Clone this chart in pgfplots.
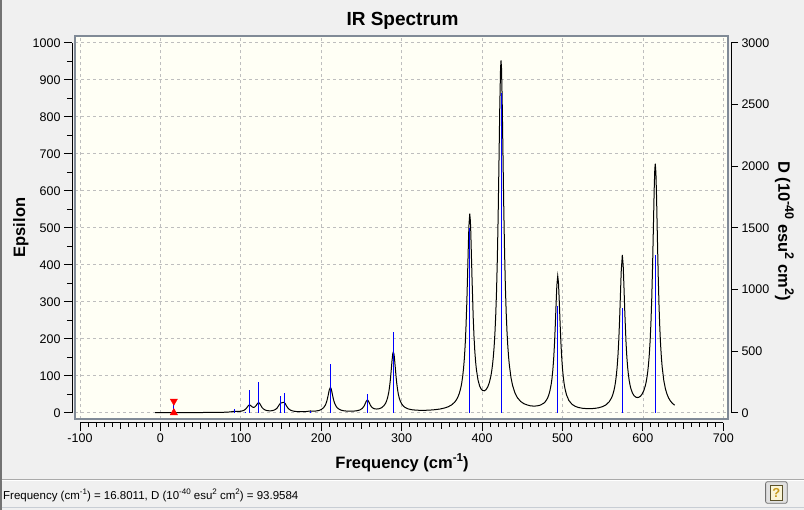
\documentclass[border=0pt]{standalone}
\usepackage{fontspec}
\setmainfont{Liberation Sans}
\usepackage{pgfplots}
\usepackage{pgfplotstable}
\pgfplotsset{compat=1.18}
\definecolor{winbg}{RGB}{240,240,240}
\definecolor{plotbg}{RGB}{255,255,245}
\definecolor{framecol}{RGB}{128,138,150}
\definecolor{gridcol}{RGB}{190,190,190}
\definecolor{stickcol}{RGB}{0,0,255}
\newcommand{\sups}[2][11bp]{\raisebox{0.42em}{\fontsize{#1}{#1}\selectfont #2}}

\pgfplotstableread{
f eps
-6.6 0.3
0 0.3
20 0.35
40 0.45
60 0.65
70 0.85
76 1.1
80 1.3
84 1.7
86 2.0
88 2.5
90 3.2
92 4.0
95 3.6
98 3.5
100 4.0
102 5.0
104 6.6
106 9.6
108 14.9
109.5 19.2
110.7 21.1
112 20.1
113 18.0
114.5 15.3
116 14.4
117.5 15.6
119 19.0
120.8 24.9
122.3 27.6
123.8 24.1
125 19.4
126.5 13.9
128 10.5
130 7.6
132 6.1
134 5.4
136 5.1
138 5.3
140 6.1
142 7.5
144 10.3
145.5 13.6
147 18.5
148.2 22.7
149.2 25.2
150.3 26.6
151.5 27.0
153 28.1
154.2 27.5
155.5 24.0
157 17.9
158.5 13.0
160 9.6
162 6.8
164 5.2
166 4.1
168 3.5
170 3.1
172 2.85
176 2.7
180 2.85
184 3.95
186.5 4.7
189 4.4
193 4.5
197 5.9
200 8.5
203 13.6
205 20.0
206 24.9
207 31.5
208 40.2
209 50.6
210 61.1
211.4 68.5
212.2 66.0
213 59.3
214 48.6
215 38.4
216 30.2
217 24.0
218.5 17.5
220 13.3
222 9.7
224 7.6
226 6.2
228 5.3
232 4.3
236 4.1
240 4.3
244 5.2
248 7.4
251 11.5
253 16.9
254 21.0
255 25.9
256 30.8
257.4 34.4
258.2 33.3
259 30.3
260 25.6
261 21.1
262 17.5
263 14.9
264.5 12.3
266 10.8
269 9.9
272 10.8
275 13.4
278 19.0
280 25.3
281 30.0
282.5 40.0
284 55.2
285 69.8
286 89.1
287 113.3
288 139.3
289 159.5
289.7 164.3
290.4 159.5
291 150.0
292 125.0
293 99.6
294 78.3
295 61.8
296 49.4
297 40.2
298.5 30.5
300 24.2
302 18.4
304 14.7
306 12.3
308 10.5
310 9.3
313 8.0
318 6.9
324 6.4
330 6.6
336 7.2
342 8.3
348 10.1
354 13.1
358 16.2
362 20.9
366 28.6
368 34.5
370 42.5
371.5 51.0
373 62.1
374.5 77.0
376 99.6
377 120.0
378 146.7
379 182.4
380 230.2
381 293.0
382 371.6
383 456.5
383.7 506.0
384.7 538.0
385.5 518.0
386 488.0
387.5 366.0
389 258.0
390 205.6
391 166.4
392 137.6
393 116.2
395 88.2
397 72.3
399 63.6
401 59.6
403 59.3
405 62.5
407 69.3
409 80.9
411 99.4
412 112.5
413 129.0
414 150.3
415 178.2
416 214.4
417 262.8
418 327.9
419 415.0
420 529.3
421 671.5
422 821.6
423 930.9
423.6 952.0
424.2 930.5
425 849.0
426 701.8
427 554.6
428 434.0
429 340.8
430 271.8
431 219.9
432 180.8
433 150.5
434 127.7
436 94.7
438 73.3
441 52.9
444 40.5
448 30.4
452 24.4
456 21.1
460 18.7
464 17.9
468 18.3
472 20.2
476 24.7
478 28.0
480 34.1
481.5 39.6
483 48.3
484.5 60.2
486 77.5
487 93.2
488 115.4
489 144.0
490 183.2
491 232.9
492 290.7
493 343.9
494.1 369.6
495 351.8
496 302.3
497 244.0
498 191.8
499 150.8
500 119.7
501 96.6
502 79.3
503 66.2
505 48.3
508 32.9
512 22.5
516 17.1
520 14.0
525 12.0
530 11.1
535 11.0
540 11.7
545 13.4
550 16.6
554 21.2
558 29.3
561 40.2
562.5 48.4
564 60.2
565 70.5
566 83.9
567 101.3
568 124.3
569 155.3
570 196.4
571 250.1
572 315.0
573 380.4
574.4 426.4
575.5 397.3
576.5 336.7
577.5 270.6
579 190.0
580 151.7
581 123.2
582 102.2
583 86.4
584 74.6
585 65.4
587 53.1
589 46.1
591 42.3
593 41.0
595 41.8
597 44.7
599 50.2
601 58.9
603 72.8
604 82.6
605 95.0
606 110.8
607 131.5
608 158.8
609 195.1
610 243.6
611 309.1
612 394.0
613 497.3
614 601.3
614.8 659.3
615.4 673.0
616.2 647.2
617 580.5
618 474.2
619 373.1
620 291.9
621 229.9
622 183.3
623 148.8
624 122.6
626 86.7
628 64.4
630 49.8
632 39.7
634 32.4
636 26.9
638 22.9
639.5 20.4
}\curvetable

\pgfplotstableread{
f D
16.8 93.9584
92.0 27
106.5 5
110.7 184
122.3 249
149.2 135
154.2 160
186.5 14
211.4 395
257.4 152
289.7 654
384.5 1495
423.8 2590
494.0 867
574.4 851
615.4 1279
}\sticktable

\begin{document}
\begin{tikzpicture}
\fill[winbg] (0,0) rectangle (804bp,-510bp);
\useasboundingbox (0,0) rectangle (804bp,-510bp);
\fill[black!55] (0,0) rectangle (1.6bp,-510bp);

% plot frame with grid and spectrum curve
\begin{axis}[at={(75bp,-419bp)}, anchor=south west, scale only axis,
  width=653bp, height=383bp,
  xmin=-106.1, xmax=705.8, ymin=-17.0, ymax=1018.1,
  axis background/.style={fill=plotbg},
  axis line style={draw=framecol, line width=1.2bp},
  xtick={-100,0,...,700}, ytick={0,100,...,1000},
  xticklabels={}, yticklabels={}, major tick length=0pt,
  grid=major,
  major grid style={draw=gridcol, line width=0.8bp, dash pattern=on 3bp off 3bp}]
\addplot[black, line width=1bp, mark=none] table[x=f,y=eps]{\curvetable};
\end{axis}

% stick spectrum on the D scale
\begin{axis}[at={(75bp,-419bp)}, anchor=south west, scale only axis,
  width=653bp, height=383bp,
  xmin=-106.1, xmax=705.8, ymin=-51.0, ymax=3054.3, hide axis]
\addplot[ycomb, draw=stickcol, line width=1bp, mark=none] table[x=f,y=D]{\sticktable};
\addplot[only marks, mark=triangle*, mark size=4.2bp, mark options={fill=red, draw=red, rotate=180}] coordinates {(16.8,93.9584)};
\addplot[only marks, mark=triangle*, mark size=4.2bp, mark options={fill=red, draw=red}] coordinates {(16.8,0)};
\end{axis}

% left scale
\begin{axis}[at={(72bp,-412.7bp)}, anchor=south west, scale only axis,
  width=10bp, height=370bp, xmin=0, xmax=1, ymin=0, ymax=1000,
  axis y line*=left, axis x line=none, xtick=\empty,
  ytick={0,100,...,1000}, minor y tick num=1, tick align=outside,
  major tick length=8bp, minor tick length=5bp,
  tick style={black, line width=1bp}, axis line style={black, line width=1bp, -},
  tick label style={font=\fontsize{12.5bp}{14bp}\selectfont},
  /pgf/number format/assume math mode=true, /pgf/number format/1000 sep={}]
\addplot[draw=none] coordinates {(0,0)};
\end{axis}

% right scale
\begin{axis}[at={(731bp,-412.7bp)}, anchor=south east, scale only axis,
  width=10bp, height=370bp, xmin=0, xmax=1, ymin=0, ymax=3000,
  axis y line*=right, axis x line=none, xtick=\empty,
  ytick={0,500,...,3000}, tick align=outside,
  major tick length=7bp,
  tick style={black, line width=1bp}, axis line style={black, line width=1bp, -},
  tick label style={font=\fontsize{12.5bp}{14bp}\selectfont},
  /pgf/number format/assume math mode=true, /pgf/number format/1000 sep={}]
\addplot[draw=none] coordinates {(0,0)};
\end{axis}

% bottom scale
\begin{axis}[at={(80.0bp,-422.7bp)}, anchor=south west, scale only axis,
  width=643.3bp, height=10bp, xmin=-100, xmax=700, ymin=0, ymax=1,
  axis x line*=bottom, axis y line=none, ytick=\empty,
  xtick={-100,0,...,700}, minor x tick num=9, tick align=outside,
  major tick length=8bp, minor tick length=4bp,
  extra x ticks={-50,50,150,250,350,450,550,650}, extra x tick labels={},
  extra x tick style={major tick length=6bp},
  tick style={black, line width=1bp}, axis line style={black, line width=1bp, -},
  tick label style={font=\fontsize{12.5bp}{14bp}\selectfont},
  /pgf/number format/assume math mode=true, /pgf/number format/1000 sep={}]
\addplot[draw=none] coordinates {(0,0)};
\end{axis}

% titles and labels
\node[anchor=base, inner sep=0, font=\bfseries\fontsize{19bp}{22bp}\selectfont] at (402.5bp,-25bp) {IR Spectrum};
\node[anchor=base, inner sep=0, font=\bfseries\fontsize{16.5bp}{19bp}\selectfont] at (402bp,-468.3bp) {Frequency (cm\sups[11.5bp]{-1})};
\node[anchor=base, inner sep=0, rotate=90, font=\bfseries\fontsize{16.5bp}{19bp}\selectfont] at (25bp,-227.5bp) {Epsilon};
\node[anchor=base, inner sep=0, rotate=-90, font=\bfseries\fontsize{16.5bp}{19bp}\selectfont] at (778.3bp,-231bp) {D (10\sups[12.5bp]{-40} esu\sups[12.5bp]{2} cm\sups[12.5bp]{2})};

% status bar
\draw[line width=1bp, draw={rgb,255:red,170;green,170;blue,170}] (1.6bp,-479.5bp) -- (804bp,-479.5bp);
\draw[line width=1bp, draw=white] (1.6bp,-480.5bp) -- (804bp,-480.5bp);
\node[anchor=base west, inner sep=0, font=\fontsize{11.5bp}{13bp}\selectfont] at (3bp,-499.3bp) {Frequency (cm\sups[8bp]{-1}) = 16.8011, D (10\sups[8bp]{-40} esu\sups[8bp]{2} cm\sups[8bp]{2}) = 93.9584};
\draw[rounded corners=2bp, line width=0.8bp, draw={rgb,255:red,112;green,112;blue,112}, fill={rgb,255:red,225;green,225;blue,225}] (765.6bp,-481.7bp) rectangle (787.2bp,-503.3bp);
\draw[line width=0.8bp, draw={rgb,255:red,90;green,80;blue,40}, fill={rgb,255:red,250;green,245;blue,215}] (770.5bp,-485bp) rectangle (782.3bp,-500bp);
\node[inner sep=0, font=\bfseries\fontsize{13bp}{13bp}\selectfont, text={rgb,255:red,200;green,155;blue,30}] at (776.4bp,-492.5bp) {?};
\draw[line width=1bp, draw={rgb,255:red,200;green,205;blue,212}] (1.6bp,-507bp) -- (804bp,-507bp);
\end{tikzpicture}
\end{document}
